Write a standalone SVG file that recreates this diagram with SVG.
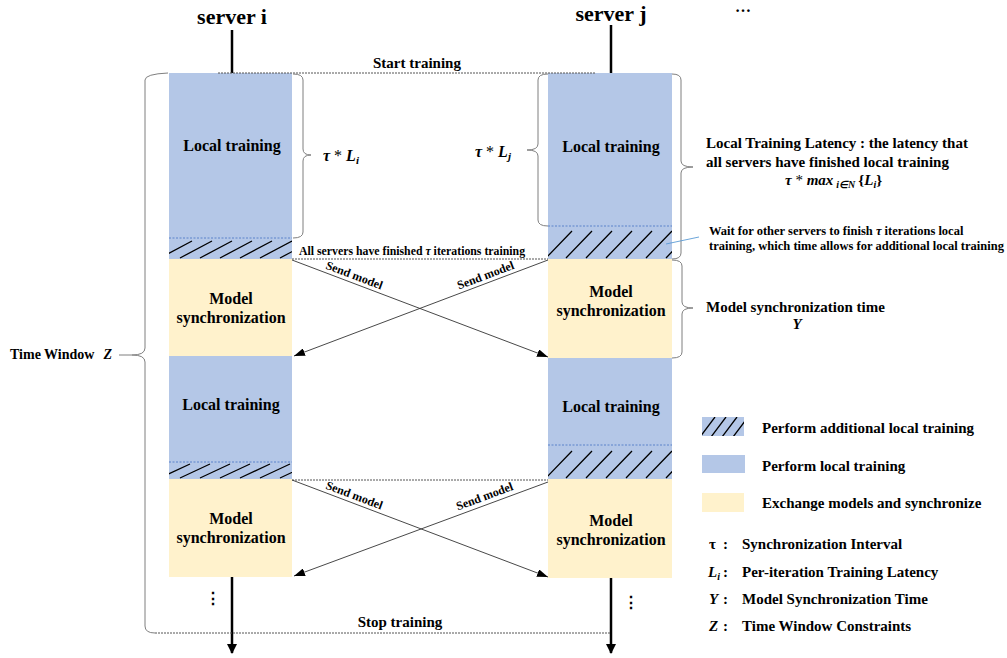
<svg xmlns="http://www.w3.org/2000/svg" width="1007" height="658" viewBox="0 0 1007 658">
<defs>
<style>
.t{font-family:"Liberation Serif","Times New Roman",serif;font-weight:bold;fill:#000}
.it{font-style:italic}
.lt{fill:#B4C7E7}
.ms{fill:#FFF2CC}
.hat{stroke:#000;stroke-width:1.3;fill:none}
.sep{stroke:#4472C4;stroke-width:0.8;stroke-dasharray:2 1.5;fill:none}
.brace{stroke:#7F7F7F;stroke-width:1;fill:none}
.dash{stroke:#555;stroke-width:1;stroke-dasharray:2 1;fill:none}
.axis{stroke:#000;stroke-width:2.5;fill:none}
.send{stroke:#333;stroke-width:0.9;fill:none}
</style>
<marker id="ah" markerWidth="11" markerHeight="8" refX="11" refY="4" orient="auto" markerUnits="userSpaceOnUse"><path d="M0,0 L11,4 L0,8 z" fill="#000"/></marker>
<marker id="ahb" markerWidth="10" markerHeight="10" refX="9" refY="5" orient="auto" markerUnits="userSpaceOnUse"><path d="M0,0 L10,5 L0,10 z" fill="#000"/></marker>
<clipPath id="ci1"><rect x="169" y="238" width="123" height="21"/></clipPath>
<clipPath id="cj1"><rect x="548" y="226" width="124" height="33"/></clipPath>
<clipPath id="ci2"><rect x="169" y="462" width="123" height="17"/></clipPath>
<clipPath id="cj2"><rect x="548" y="445" width="124" height="34"/></clipPath>
<clipPath id="cl"><rect x="702" y="417" width="42" height="19"/></clipPath>
</defs>

<!-- axes -->
<g id="axes">
<line class="axis" x1="232" y1="30" x2="232" y2="73"/>
<line class="axis" x1="611" y1="25" x2="611" y2="73"/>
<line class="axis" x1="232" y1="577" x2="232" y2="653" marker-end="url(#ahb)"/>
<line class="axis" x1="611" y1="578" x2="611" y2="653" marker-end="url(#ahb)"/>
</g>

<text class="t" x="232" y="24" font-size="22" text-anchor="middle">server i</text>
<text class="t" x="611" y="21" font-size="22" text-anchor="middle">server j</text>
<text class="t" x="743" y="12" font-size="16" text-anchor="middle">…</text>

<!-- server i -->
<g id="node-i-lt1">
<rect class="lt" x="169" y="73" width="123" height="186"/>
<g clip-path="url(#ci1)"><path class="hat" d="M160,258 l32,-17 M180,258 l32,-17 M200,258 l32,-17 M220,258 l32,-17 M240,258 l32,-17 M260,258 l32,-17 M280,258 l32,-17"/></g>
<line class="sep" x1="169" y1="238" x2="292" y2="238"/>
<text class="t" x="232" y="151" font-size="16" text-anchor="middle">Local training</text>
</g>
<g id="node-i-ms1">
<rect class="ms" x="169" y="259" width="123" height="97"/>
<text class="t" x="231" y="304" font-size="16" text-anchor="middle">Model</text>
<text class="t" x="231" y="323" font-size="16" text-anchor="middle">synchronization</text>
</g>
<g id="node-i-lt2">
<rect class="lt" x="169" y="356" width="123" height="123"/>
<g clip-path="url(#ci2)"><path class="hat" d="M160,478 l30,-14 M180,478 l30,-14 M200,478 l30,-14 M220,478 l30,-14 M240,478 l30,-14 M260,478 l30,-14 M280,478 l30,-14"/></g>
<line class="sep" x1="169" y1="462" x2="292" y2="462"/>
<text class="t" x="231" y="410" font-size="16" text-anchor="middle">Local training</text>
</g>
<g id="node-i-ms2">
<rect class="ms" x="169" y="479" width="123" height="98"/>
<text class="t" x="231" y="524" font-size="16" text-anchor="middle">Model</text>
<text class="t" x="231" y="543" font-size="16" text-anchor="middle">synchronization</text>
</g>

<!-- server j -->
<g id="node-j-lt1">
<rect class="lt" x="548" y="73" width="124" height="186"/>
<g clip-path="url(#cj1)"><path class="hat" d="M546,258 l26,-27 M566,258 l26,-27 M586,258 l26,-27 M606,258 l26,-27 M626,258 l26,-27 M646,258 l26,-27 M666,258 l26,-27"/></g>
<line class="sep" x1="548" y1="226" x2="672" y2="226"/>
<text class="t" x="611" y="152" font-size="16" text-anchor="middle">Local training</text>
</g>
<g id="node-j-ms1">
<rect class="ms" x="548" y="259" width="124" height="99"/>
<text class="t" x="611" y="297" font-size="16" text-anchor="middle">Model</text>
<text class="t" x="611" y="316" font-size="16" text-anchor="middle">synchronization</text>
</g>
<g id="node-j-lt2">
<rect class="lt" x="548" y="358" width="124" height="121"/>
<g clip-path="url(#cj2)"><path class="hat" d="M546,478 l26,-27 M566,478 l26,-27 M586,478 l26,-27 M606,478 l26,-27 M626,478 l26,-27 M646,478 l26,-27 M666,478 l26,-27"/></g>
<line class="sep" x1="548" y1="445" x2="672" y2="445"/>
<text class="t" x="611" y="412" font-size="16" text-anchor="middle">Local training</text>
</g>
<g id="node-j-ms2">
<rect class="ms" x="548" y="479" width="124" height="99"/>
<text class="t" x="611" y="526" font-size="16" text-anchor="middle">Model</text>
<text class="t" x="611" y="545" font-size="16" text-anchor="middle">synchronization</text>
</g>

<!-- dots -->
<text class="t" x="213" y="604" font-size="16" text-anchor="middle">⋮</text>
<text class="t" x="631" y="608" font-size="16" text-anchor="middle">⋮</text>

<!-- dashed time lines -->
<g id="timelines">
<line class="dash" x1="218" y1="73" x2="596" y2="73"/>
<line class="dash" x1="292" y1="259" x2="548" y2="259"/>
<line class="dash" x1="292" y1="480" x2="548" y2="480"/>
<line class="dash" x1="155" y1="633" x2="611" y2="633"/>
</g>
<text class="t" x="417" y="68" font-size="15" text-anchor="middle">Start training</text>
<text class="t" x="412" y="255" font-size="11.8" text-anchor="middle">All servers have finished <tspan font-style="italic">τ</tspan> iterations training</text>
<text class="t" x="400" y="627" font-size="15" text-anchor="middle">Stop training</text>

<!-- connectors -->
<g id="connectors">
<line class="send" x1="292" y1="260" x2="548" y2="357" marker-end="url(#ah)"/>
<line class="send" x1="548" y1="260" x2="294" y2="356" marker-end="url(#ah)"/>
<line class="send" x1="292" y1="480" x2="548" y2="577" marker-end="url(#ah)"/>
<line class="send" x1="548" y1="482" x2="294" y2="576" marker-end="url(#ah)"/>
<text class="t" font-size="12" text-anchor="middle" transform="translate(353,279) rotate(20.75)">Send model</text>
<text class="t" font-size="12" text-anchor="middle" transform="translate(487,279) rotate(-20.8)">Send model</text>
<text class="t" font-size="12" text-anchor="middle" transform="translate(353,499) rotate(20.75)">Send model</text>
<text class="t" font-size="12" text-anchor="middle" transform="translate(486,500) rotate(-20.4)">Send model</text>
</g>

<!-- braces -->
<g id="braces">
<path class="brace" d="M168,73 Q145,74 145,80 L145,348 Q145,355 132,355 Q145,355 145,362 L145,626 Q145,633 155,633"/>
<line class="brace" x1="119" y1="355" x2="132" y2="355"/>
<path class="brace" d="M293,74 Q303,74 303,80 L303,149 Q303,155 311,155 Q303,155 303,161 L303,232 Q303,238 293,238"/>
<path class="brace" d="M548,74 Q538,74 538,80 L538,144 Q538,150 527,150 Q538,150 538,156 L538,220 Q538,226 548,226"/>
<path class="brace" d="M672,74 Q681,74 681,80 L681,161 Q681,167 693,167 Q681,167 681,173 L681,253 Q681,259 672,259"/>
<path class="brace" d="M672,260 Q682,260 682,266 L682,302 Q682,308 693,308 Q682,308 682,314 L682,352 Q682,358 672,358"/>
<line stroke="#5B9BD5" stroke-width="0.9" x1="666" y1="244" x2="699" y2="237"/>
</g>

<text class="t" x="10" y="359" font-size="14">Time Window<tspan class="it" dx="9">Z</tspan></text>
<text class="t it" x="323" y="161" font-size="16">τ <tspan font-style="normal" font-weight="normal">*</tspan> L<tspan font-size="11" dy="3">i</tspan></text>
<text class="t it" x="475" y="157" font-size="16">τ <tspan font-style="normal" font-weight="normal">*</tspan> L<tspan font-size="11" dy="3">j</tspan></text>

<text class="t" x="706" y="148" font-size="15">Local Training Latency : the latency that</text>
<text class="t" x="706" y="167" font-size="15">all servers have finished local training</text>
<text class="t it" x="785" y="185" font-size="15">τ <tspan font-style="normal" font-weight="normal">*</tspan> max<tspan font-size="10" dy="3" dx="3">i∈N</tspan><tspan dy="-3" dx="3" font-style="normal">{</tspan>L<tspan font-size="10" dy="3">i</tspan><tspan dy="-3" font-style="normal">}</tspan></text>

<text class="t" x="709" y="235" font-size="12.5">Wait for other servers to finish <tspan font-style="italic">τ</tspan> iterations local</text>
<text class="t" x="709" y="250" font-size="12.5">training, which time allows for additional local training</text>

<text class="t" x="706" y="312" font-size="15">Model synchronization time</text>
<text class="t it" x="797" y="329" font-size="15" text-anchor="middle">Y</text>

<!-- legend -->
<g id="legend">
<rect class="lt" x="702" y="417" width="42" height="19"/>
<g clip-path="url(#cl)"><path class="hat" d="M700,437 l15,-20 M711,437 l15,-20 M722,437 l15,-20 M733,437 l15,-20 M744,437 l15,-20"/></g>
<rect class="lt" x="702" y="455" width="43" height="18"/>
<rect class="ms" x="702" y="493" width="42" height="19"/>
<text class="t" x="762" y="433" font-size="15">Perform additional local training</text>
<text class="t" x="762" y="471" font-size="15">Perform local training</text>
<text class="t" x="762" y="508" font-size="15">Exchange models and synchronize</text>
<text class="t" x="709" y="549" font-size="15">τ</text>
<text class="t it" x="708" y="577" font-size="15">L<tspan font-size="10" dy="3">i</tspan></text>
<text class="t it" x="709" y="604" font-size="15">Y</text>
<text class="t it" x="709" y="631" font-size="15">Z</text>
<text class="t" x="723" y="549" font-size="15">:</text>
<text class="t" x="723" y="577" font-size="15">:</text>
<text class="t" x="723" y="604" font-size="15">:</text>
<text class="t" x="723" y="631" font-size="15">:</text>
<text class="t" x="742" y="549" font-size="15">Synchronization Interval</text>
<text class="t" x="742" y="577" font-size="15">Per-iteration Training Latency</text>
<text class="t" x="742" y="604" font-size="15">Model Synchronization Time</text>
<text class="t" x="742" y="631" font-size="15">Time Window Constraints</text>
</g>
</svg>
